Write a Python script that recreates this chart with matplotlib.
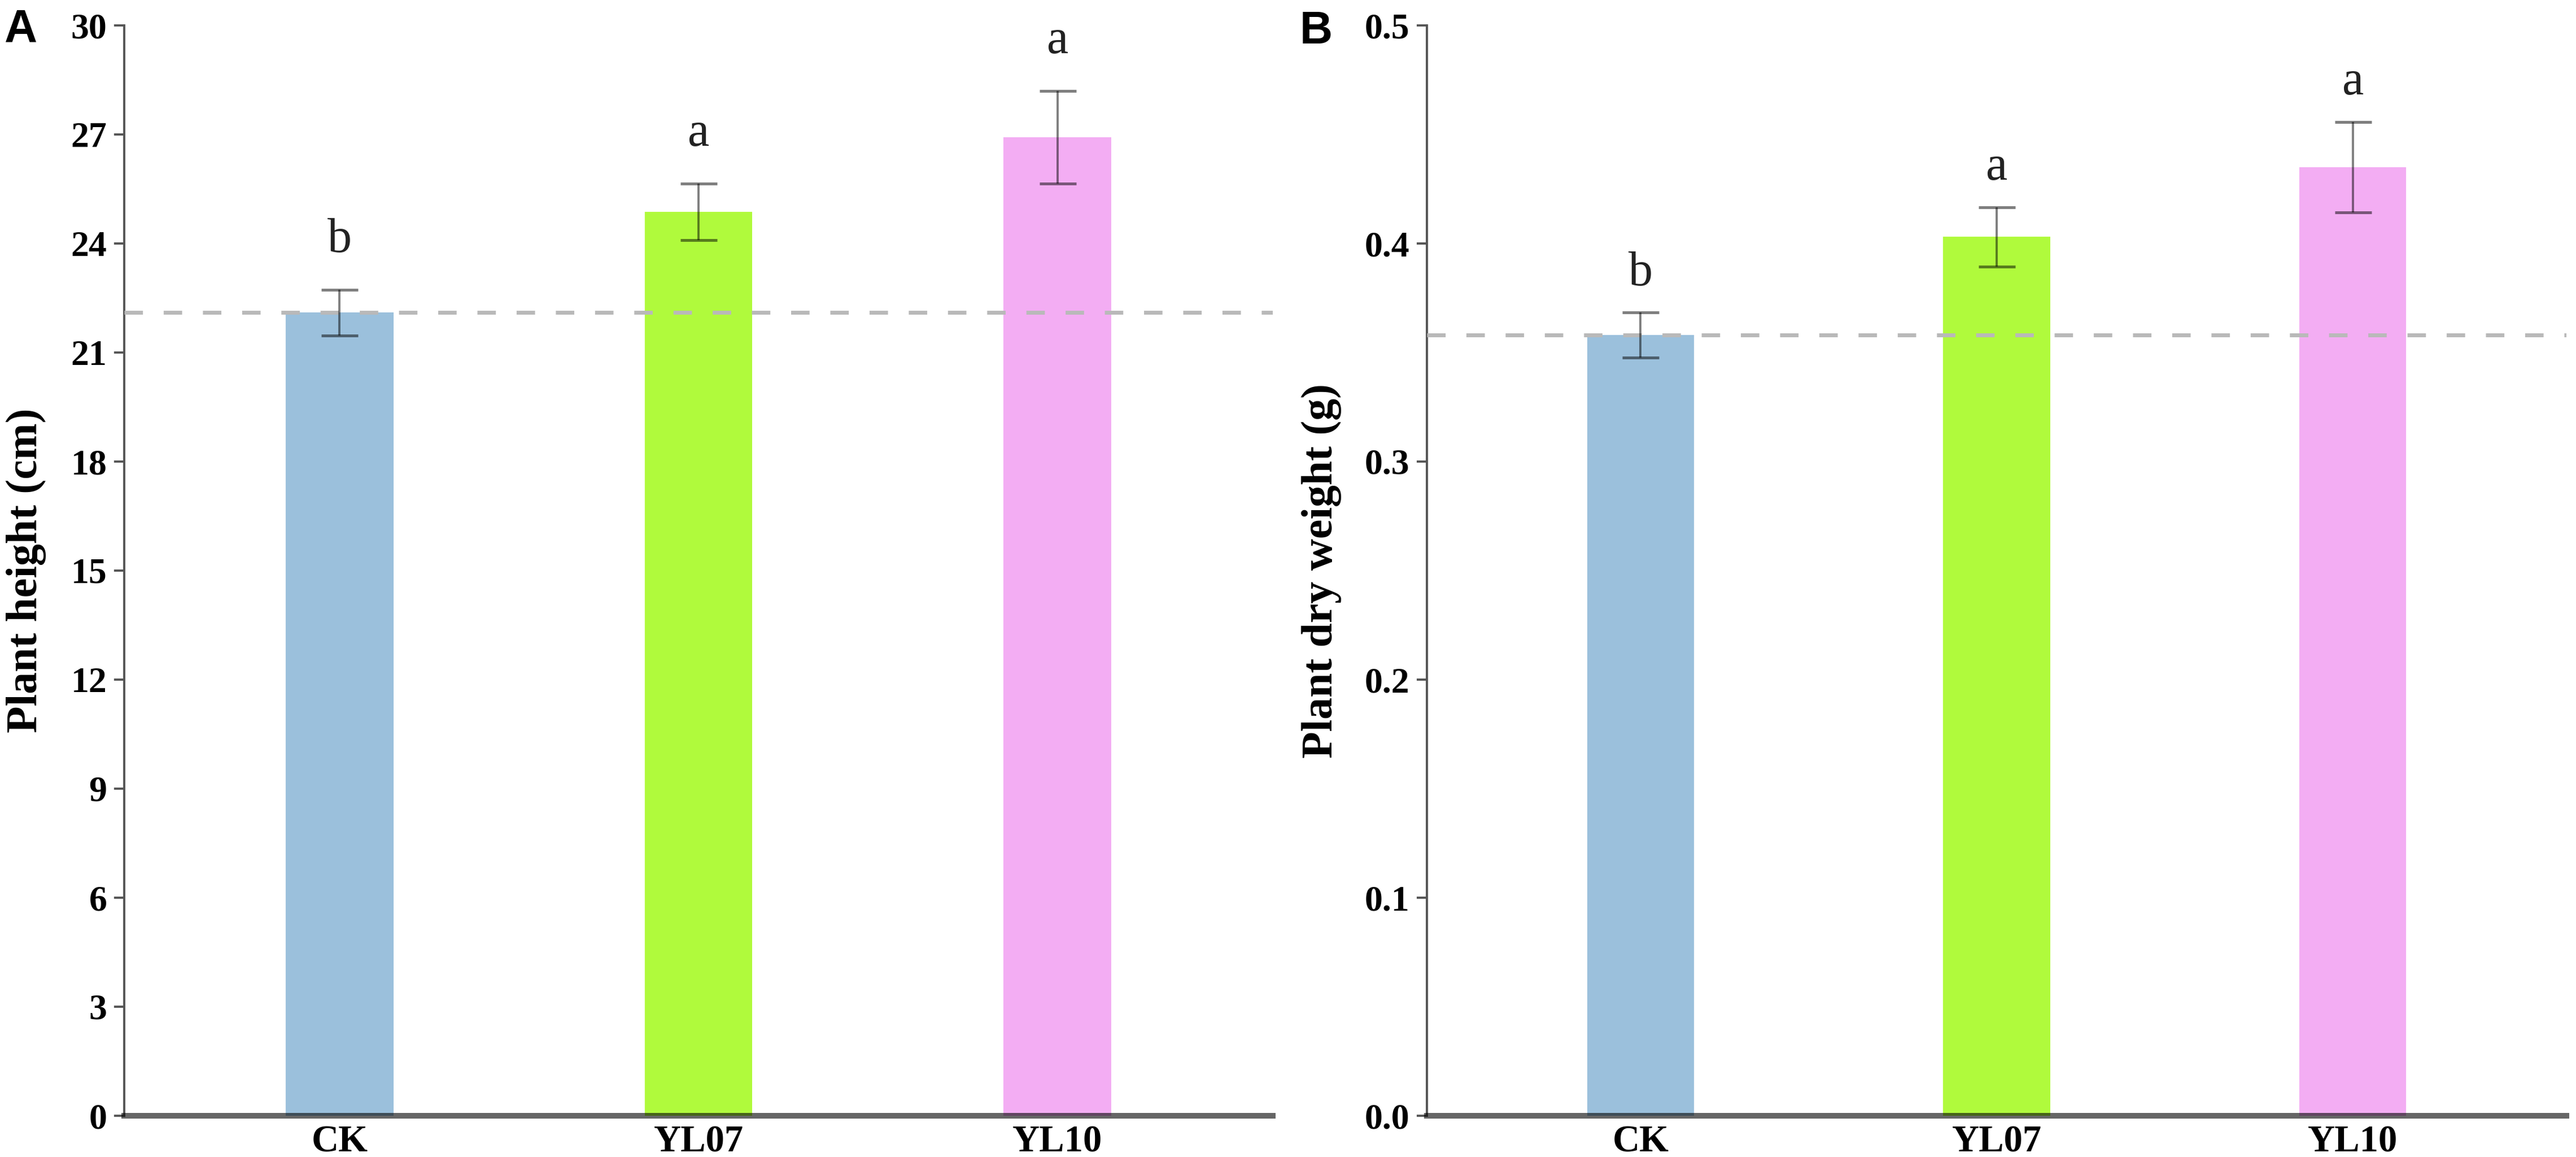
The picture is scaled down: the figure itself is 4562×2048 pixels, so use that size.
import numpy as np
import matplotlib
matplotlib.use("Agg")
import matplotlib.pyplot as plt

# -------------------------
# data
# -------------------------
groups = ["CK", "YL07", "YL10"]
bar_colors = ["#9bc0dc", "#b0fa3c", "#f3adf3"]
letters_height = ["b", "a", "a"]
letters_weight = ["b", "a", "a"]

height_mean = [22.10, 24.87, 26.92]
height_err = [0.63, 0.78, 1.28]

weight_mean = [0.358, 0.403, 0.435]
weight_err = [0.0104, 0.0137, 0.0208]

height_ticks = np.arange(0, 31, 3)
weight_ticks = np.arange(0, 0.51, 0.1)

serif = "Liberation Serif"
W, H = 4562, 2048
fig = plt.figure(figsize=(W / 200, H / 200), dpi=200)


def panel(rect, means, errs, letters, ticks, ylim, ylabel, fmt, gap, label_x):
    ax = fig.add_axes(rect)
    x = np.arange(len(groups))
    ax.bar(x, means, width=0.3, color=bar_colors, zorder=2)
    ax.axhline(means[0], color="#b9b9b9", lw=2.5, dashes=(4.7, 5.3), zorder=3)
    ax.errorbar(x, means, yerr=errs, fmt="none", ecolor="black", alpha=0.5,
                elinewidth=1.4, capsize=11.7, capthick=1.8, zorder=4)
    for xi, m, e, t in zip(x, means, errs, letters):
        ax.text(xi, m + e + gap, t, ha="center", va="baseline",
                fontsize=31, family=serif, color="#222222")
    ax.set_xlim(-0.6, 2.6)
    ax.set_ylim(*ylim)
    ax.set_yticks(ticks)
    ax.set_yticklabels([fmt.format(t) for t in ticks], family=serif,
                       fontweight="bold", fontsize=23)
    ax.set_xticks(x)
    ax.set_xticklabels(groups, family=serif, fontweight="bold", fontsize=24)
    ax.tick_params(axis="x", length=0, pad=6)
    ax.tick_params(axis="y", length=6.5, width=1.4, color="#555555", pad=4.5)
    for s in ["top", "right"]:
        ax.spines[s].set_visible(False)
    ax.spines["left"].set_color("#555555")
    ax.spines["left"].set_linewidth(1.4)
    ax.spines["bottom"].set_color((0, 0, 0, 0.6))
    ax.spines["bottom"].set_linewidth(3.6)
    ax.spines["bottom"].set_zorder(5)
    ax.set_ylabel(ylabel, family=serif, fontweight="bold", fontsize=28)
    ax.yaxis.set_label_coords(label_x, 0.5)
    return ax


bottom = 1 - 1975 / H
top = 1 - 45 / H
panel([220 / W, bottom, 2034 / W, top - bottom], height_mean, height_err,
      letters_height, height_ticks, (0, 30), "Plant height (cm)", "{:.0f}",
      1.04, -0.068)
panel([2527 / W, bottom, 2018 / W, top - bottom], weight_mean, weight_err,
      letters_weight, weight_ticks, (0, 0.5), "Plant dry weight (g)", "{:.1f}",
      0.0125, -0.075)

fig.text(8 / W, 1 - 15 / H, "A", ha="left", va="top", family="Liberation Sans",
         fontweight="bold", fontsize=29)
fig.text(2302 / W, 1 - 18 / H, "B", ha="left", va="top", family="Liberation Sans",
         fontweight="bold", fontsize=29)

fig.savefig("out.png", dpi=200, facecolor="white")
